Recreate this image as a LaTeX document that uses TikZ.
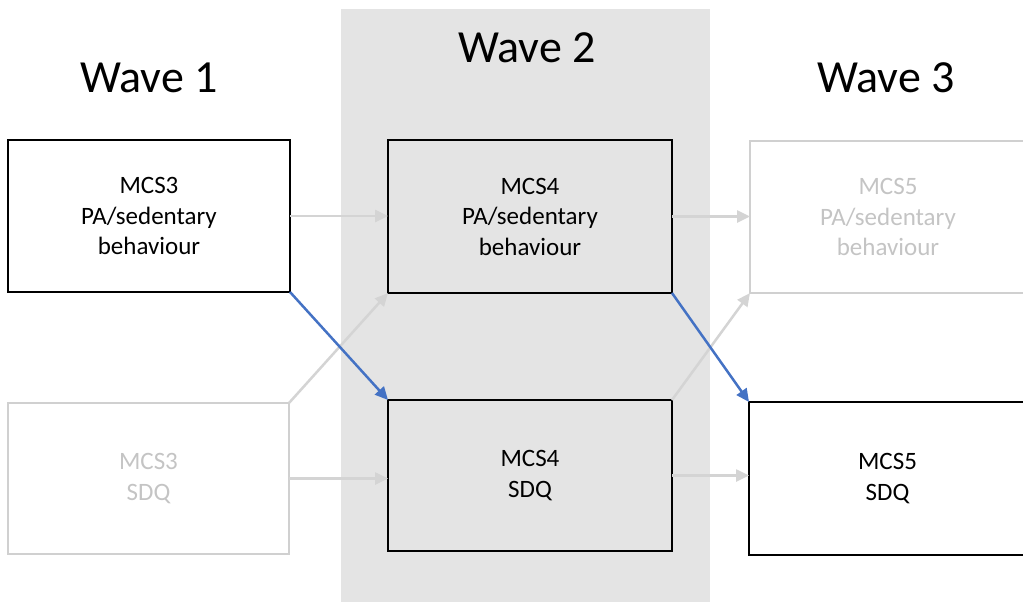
\documentclass[tikz,border=0pt]{standalone}
\usepackage{fontspec}
\setmainfont{Carlito}
\usetikzlibrary{arrows.meta}
\definecolor{band}{RGB}{228,228,228}
\definecolor{faint}{RGB}{208,208,208}
\definecolor{fainttext}{RGB}{196,196,196}
\definecolor{linkgrey}{RGB}{212,212,212}
\definecolor{linkblue}{RGB}{68,114,196}
\begin{document}
\begin{tikzpicture}[x=1pt,y=-1pt,
  box/.style={draw=black, line width=2pt, inner sep=0pt, outer sep=0pt,
    align=center, font=\fontsize{25}{30.5}\selectfont},
  faintbox/.style={box, draw=faint, text=fainttext},
  wave/.style={inner sep=0pt, font=\fontsize{46}{50}\selectfont},
  link/.style={draw=linkgrey, line width=2.5pt,
    -{Triangle[length=13pt,width=12pt]}},
  keylink/.style={draw=linkblue, line width=2.5pt,
    -{Triangle[length=13pt,width=12pt]}}]
\useasboundingbox (0,0) rectangle (1023,602);

% shaded column for the middle wave
\fill[band] (341,9) rectangle (710,602);

% wave headings
\node[wave] (w1) at (149,78) {Wave 1};
\node[wave] (w2) at (527,48) {Wave 2};
\node[wave] (w3) at (886,78) {Wave 3};

% measures per wave
\node[box, minimum width=282pt, minimum height=152pt] (pa3) at (149,216)
  {MCS3\\PA/sedentary\\behaviour};
\node[box, minimum width=284pt, minimum height=153pt] (pa4) at (530,216.5)
  {MCS4\\PA/sedentary\\behaviour};
\node[faintbox, minimum width=276pt, minimum height=152pt] (pa5) at (888,217)
  {MCS5\\PA/sedentary\\behaviour};
\node[faintbox, minimum width=281pt, minimum height=151pt] (sdq3) at (148.5,478.5)
  {MCS3\\SDQ};
\node[box, minimum width=284pt, minimum height=151pt] (sdq4) at (530,475.5)
  {MCS4\\SDQ};
\node[box, minimum width=277pt, minimum height=153pt] (sdq5) at (887.5,478.5)
  {MCS5\\SDQ};

% stability and reverse paths
\draw[link] (pa3.east) -- (pa3.east -| pa4.west);
\draw[link] (sdq3.east) -- (sdq3.east -| sdq4.west);
\draw[link] (sdq3.north east) -- (pa4.south west);
\draw[link] (pa4.east) -- (pa4.east -| pa5.west);
\draw[link] (sdq4.east) -- (sdq4.east -| sdq5.west);
\draw[link] (sdq4.north east) -- (pa5.south west);

% cross-lagged paths of interest
\draw[keylink] (pa3.south east) -- (sdq4.north west);
\draw[keylink] (pa4.south east) -- (sdq5.north west);
\end{tikzpicture}
\end{document}
